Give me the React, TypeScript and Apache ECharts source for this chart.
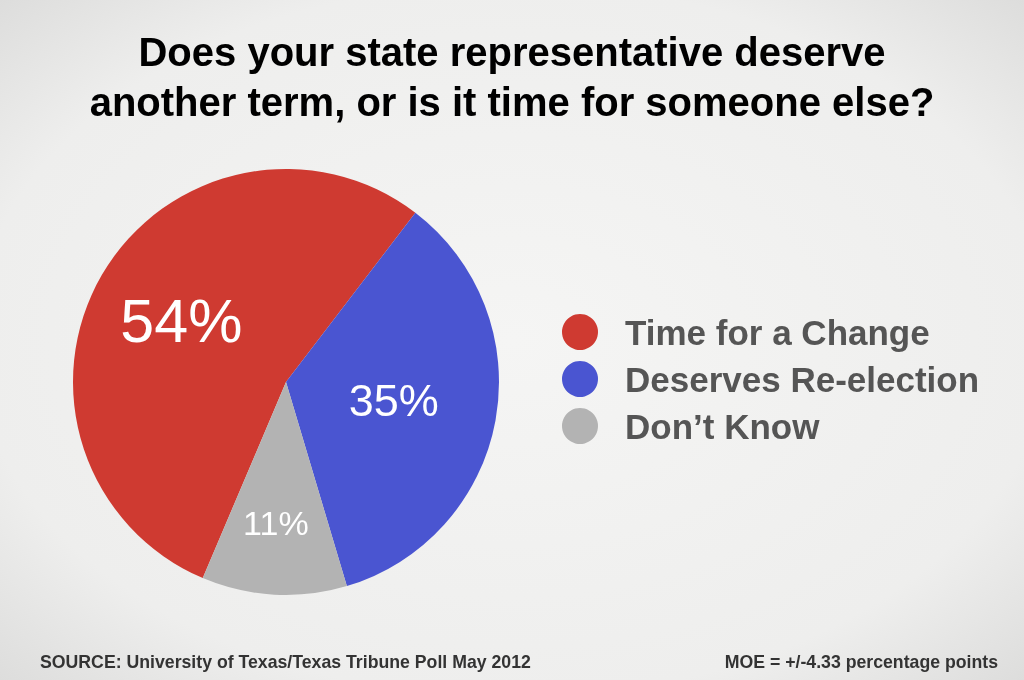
import React, { useEffect, useRef } from "react";
import * as echarts from "echarts";

const categories = ["Time for a Change", "Deserves Re-election", "Don't Know"];
const legendLabels = ["Time for a Change", "Deserves Re-election", "Don’t Know"];
const values = [54, 35, 11];
const colors = ["#cf3a31", "#4a55d1", "#b3b3b3"];
const labelSizes = [61, 45, 34];
const labelShift = [
  [-10, -6],
  [0, -1],
  [-4, 32],
];

const FONT = "'Liberation Sans', Arial, Helvetica, sans-serif";

export default function App() {
  const ref = useRef<HTMLDivElement>(null);
  useEffect(() => {
    if (!ref.current) return;
    const chart = echarts.init(ref.current, null, { renderer: "svg" });
    chart.setOption({
      animation: false,
      backgroundColor: {
        type: "radial",
        x: 0.5,
        y: 0.5,
        r: 0.75,
        colorStops: [
          { offset: 0, color: "#f5f5f4" },
          { offset: 0.7, color: "#eeeeed" },
          { offset: 1, color: "#d9d9d8" },
        ],
      },
      title: {
        text: "Does your state representative deserve\nanother term, or is it time for someone else?",
        left: "center",
        top: 22,
        textStyle: {
          fontFamily: FONT,
          fontSize: 40,
          fontWeight: "bold",
          color: "#000",
          lineHeight: 50,
        },
      },
      legend: {
        orient: "vertical",
        left: 562,
        top: 314,
        padding: 0,
        icon: "circle",
        itemWidth: 36,
        itemHeight: 36,
        itemGap: 11,
        data: categories,
        selectedMode: false,
        formatter: (name: string) => legendLabels[categories.indexOf(name)],
        textStyle: {
          fontFamily: FONT,
          fontSize: 35,
          fontWeight: "bold",
          color: "#555555",
          padding: [0, 0, 0, 22],
        },
      },
      series: [
        {
          type: "pie",
          center: [286, 382],
          radius: 213,
          startAngle: 247,
          clockwise: true,
          silent: true,
          label: {
            show: true,
            position: "inside",
            formatter: "{c}%",
            color: "#fff",
            fontFamily: FONT,
          },
          labelLine: { show: false },
          labelLayout: (p: any) => ({
            dx: labelShift[p.dataIndex][0],
            dy: labelShift[p.dataIndex][1],
          }),
          data: categories.map((name, i) => ({
            name,
            value: values[i],
            itemStyle: { color: colors[i] },
            label: { fontSize: labelSizes[i] },
          })),
        },
      ],
      graphic: [
        {
          type: "text",
          left: 40,
          top: 653,
          style: {
            text: "SOURCE: University of Texas/Texas Tribune Poll May 2012",
            fontFamily: FONT,
            fontSize: 17.7,
            fontWeight: "bold",
            fill: "#333",
          },
        },
        {
          type: "text",
          right: 26,
          top: 653,
          style: {
            text: "MOE = +/-4.33 percentage points",
            fontFamily: FONT,
            fontSize: 17.7,
            fontWeight: "bold",
            fill: "#333",
          },
        },
      ],
    });
    return () => chart.dispose();
  }, []);
  return (
    <div
      ref={ref}
      style={{ position: "fixed", left: 0, top: 0, width: 1024, height: 680 }}
    />
  );
}
